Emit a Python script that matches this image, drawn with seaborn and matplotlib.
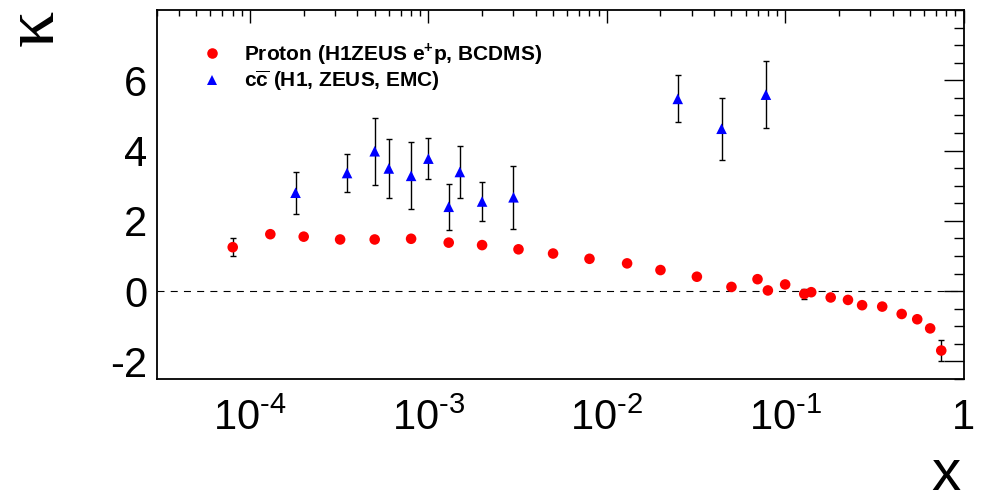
import numpy as np
import pandas as pd
import matplotlib
matplotlib.use("Agg")
import matplotlib.pyplot as plt
from matplotlib.lines import Line2D
from matplotlib.ticker import LogLocator, MultipleLocator, NullFormatter
from matplotlib.font_manager import FontProperties
import seaborn as sns

# ---------------- data ----------------
proton_x = [8e-5, 1.3e-4, 2e-4, 3.2e-4, 5e-4, 8e-4, 1.3e-3, 2e-3, 3.2e-3, 5e-3,
            8e-3, 1.3e-2, 2e-2, 3.2e-2, 5e-2, 7e-2, 8e-2, 0.1, 0.128, 0.14,
            0.18, 0.225, 0.27, 0.35, 0.45, 0.55, 0.65, 0.75]
proton_k = [1.25, 1.62, 1.55, 1.47, 1.47, 1.49, 1.38, 1.31, 1.19, 1.07,
            0.92, 0.79, 0.60, 0.41, 0.12, 0.34, 0.02, 0.19, -0.08, -0.03,
            -0.18, -0.25, -0.40, -0.44, -0.65, -0.80, -1.06, -1.69]
proton_err = [0.26, 0.0, 0.0, 0.0, 0.0, 0.0, 0.0, 0.0, 0.0, 0.0,
              0.0, 0.0, 0.0, 0.0, 0.0, 0.0, 0.0, 0.0, 0.15, 0.0,
              0.0, 0.0, 0.0, 0.0, 0.0, 0.0, 0.0, 0.30]

charm_x = [1.8e-4, 3.5e-4, 5e-4, 6e-4, 8e-4, 1e-3, 1.3e-3, 1.5e-3, 2e-3, 3e-3,
           2.5e-2, 4.4e-2, 7.8e-2]
charm_k = [2.80, 3.36, 3.98, 3.49, 3.28, 3.77, 2.40, 3.39, 2.55, 2.67,
           5.47, 4.62, 5.59]
charm_err = [0.60, 0.54, 0.95, 0.85, 0.95, 0.58, 0.65, 0.73, 0.56, 0.89,
             0.67, 0.88, 0.95]

series_names = [r"Proton (H1ZEUS e$^{\mathbf{+}}$p, BCDMS)",
                r"$\mathbf{c\overline{c}}$ (H1, ZEUS, EMC)"]
series_colors = ["#ff0000", "#0000ff"]
series_markers = ["o", "^"]

xticks = [1e-4, 1e-3, 1e-2, 1e-1, 1]
xtick_labels = ["$\\mathregular{10^{\u20104}}$", "$\\mathregular{10^{\u20103}}$",
                "$\\mathregular{10^{\u20102}}$", "$\\mathregular{10^{\u20101}}$", "1"]
yticks = [-2, 0, 2, 4, 6]
ytick_labels = ["-2", "0", "2", "4", "6"]

# ---------------- style ----------------
sns.set_style("white")
plt.rcParams["font.family"] = ["Liberation Sans", "DejaVu Sans"]
plt.rcParams["mathtext.fontset"] = "custom"
plt.rcParams["mathtext.rm"] = "Liberation Sans"
plt.rcParams["mathtext.bf"] = "Liberation Sans:bold"
plt.rcParams["axes.unicode_minus"] = False
for key in ["text.color", "axes.labelcolor", "xtick.color", "ytick.color",
            "axes.edgecolor"]:
    plt.rcParams[key] = "black"

df = pd.concat([
    pd.DataFrame({"x": proton_x, "kappa": proton_k, "err": proton_err,
                  "series": series_names[0]}),
    pd.DataFrame({"x": charm_x, "kappa": charm_k, "err": charm_err,
                  "series": series_names[1]}),
], ignore_index=True)

fig = plt.figure(figsize=(9.82, 4.94), dpi=100)
ax = fig.add_axes([0.1596, 0.2328, 0.8216, 0.747])

ax.axhline(0, color="black", lw=0.8, ls=(0, (6.3, 5.6)), zorder=1)

for name in series_names:
    sub = df[df["series"] == name]
    ax.errorbar(sub["x"], sub["kappa"], yerr=sub["err"], fmt="none",
                ecolor="black", elinewidth=1.0, capsize=2, capthick=1.0, zorder=2)

sns.scatterplot(data=df, x="x", y="kappa", hue="series", style="series",
                palette=dict(zip(series_names, series_colors)),
                markers=dict(zip(series_names, series_markers)),
                s=58, edgecolor="none", linewidth=0, legend=False, ax=ax, zorder=3)

ax.set_xscale("log")
ax.set_xlim(3e-5, 1)
ax.set_ylim(-2.5, 8)
ax.set_xticks(xticks, xtick_labels)
ax.xaxis.set_minor_locator(LogLocator(base=10, subs=np.arange(2, 10), numticks=20))
ax.xaxis.set_minor_formatter(NullFormatter())
ax.set_yticks(yticks, ytick_labels)
ax.yaxis.set_minor_locator(MultipleLocator(0.5))

ax.tick_params(axis="both", which="both", direction="in", top=True, right=True,
               color="black", labelcolor="black", labelsize=30, width=1.0)
ax.tick_params(axis="x", which="major", length=9, pad=14)
ax.tick_params(axis="x", which="minor", length=4.5)
ax.tick_params(axis="y", which="major", length=14.5, pad=7)
ax.tick_params(axis="y", which="minor", length=7.2)
for sp in ax.spines.values():
    sp.set_linewidth(1.3)
    sp.set_color("black")
ax.set_xlabel("")
ax.set_ylabel("")

fig.text(961 / 982, 1 - 490 / 494, "x", fontsize=42, ha="right", va="baseline",
         family="Liberation Sans", color="black")
fig.text(53 / 982, 1 - 10 / 494, "\u03ba", fontsize=52, rotation=90,
         rotation_mode="anchor", ha="right", va="baseline", color="black",
         family=["Liberation Serif", "DejaVu Serif"])

handles = [Line2D([], [], ls="none", marker=m, color=c, markeredgewidth=0,
                  markersize=7.6) for m, c in zip(series_markers, series_colors)]
ax.legend(handles, series_names, loc="upper left",
          bbox_to_anchor=(203 / 982, 1 - 41 / 494), bbox_transform=fig.transFigure,
          frameon=False, borderpad=0, borderaxespad=0, handlelength=0.9,
          handletextpad=1.05, labelspacing=0.1,
          prop=FontProperties(family="Liberation Sans", weight="bold", size=15))

fig.savefig("out.png", dpi=100)
